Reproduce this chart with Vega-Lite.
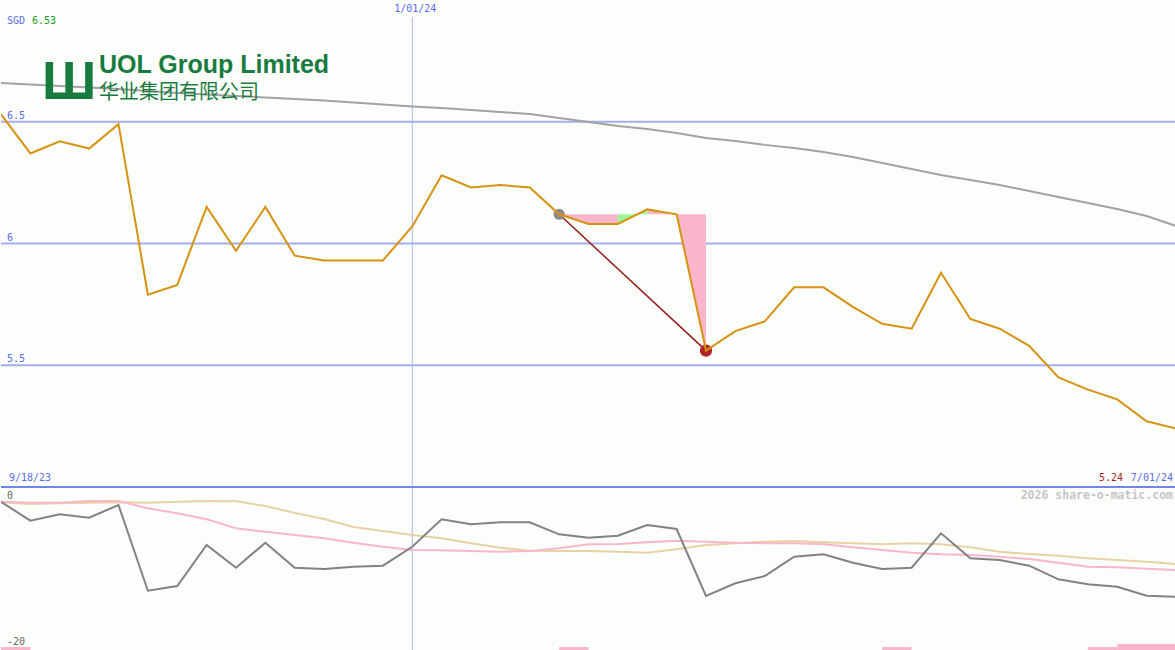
{
  "$schema": "https://vega.github.io/schema/vega-lite/v6.json",
  "background": "#fcfefc",
  "padding": 0,
  "spacing": 0,
  "bounds": "flush",
  "config": {"view": {"stroke": null}},
  "resolve": {"scale": {"y": "independent", "x": "shared"}},
  "datasets": {
    "weekly": [
      {"date": "2023-09-25", "price": 6.53, "average": 6.659, "relative": 0, "relFast": 0, "relSlow": -0.07},
      {"date": "2023-10-02", "price": 6.37, "average": 6.653, "relative": -2.55, "relFast": -0.12, "relSlow": -0.3},
      {"date": "2023-10-09", "price": 6.42, "average": 6.647, "relative": -1.69, "relFast": -0.12, "relSlow": -0.2},
      {"date": "2023-10-16", "price": 6.39, "average": 6.641, "relative": -2.15, "relFast": 0.1, "relSlow": -0.12},
      {"date": "2023-10-23", "price": 6.49, "average": 6.634, "relative": -0.43, "relFast": 0.1, "relSlow": -0.07},
      {"date": "2023-10-30", "price": 5.79, "average": 6.626, "relative": -12.0, "relFast": -0.88, "relSlow": -0.12},
      {"date": "2023-11-06", "price": 5.83, "average": 6.618, "relative": -11.36, "relFast": -1.55, "relSlow": 0.01},
      {"date": "2023-11-13", "price": 6.15, "average": 6.612, "relative": -5.83, "relFast": -2.36, "relSlow": 0.11},
      {"date": "2023-11-20", "price": 5.97, "average": 6.606, "relative": -8.89, "relFast": -3.58, "relSlow": 0.07},
      {"date": "2023-11-27", "price": 6.15, "average": 6.6, "relative": -5.52, "relFast": -4.04, "relSlow": -0.57},
      {"date": "2023-12-04", "price": 5.95, "average": 6.593, "relative": -8.89, "relFast": -4.48, "relSlow": -1.51},
      {"date": "2023-12-11", "price": 5.93, "average": 6.587, "relative": -9.07, "relFast": -4.93, "relSlow": -2.32},
      {"date": "2023-12-18", "price": 5.93, "average": 6.579, "relative": -8.76, "relFast": -5.52, "relSlow": -3.4},
      {"date": "2023-12-25", "price": 5.93, "average": 6.571, "relative": -8.62, "relFast": -6.06, "relSlow": -3.94},
      {"date": "2024-01-01", "price": 6.07, "average": 6.563, "relative": -6.06, "relFast": -6.51, "relSlow": -4.48},
      {"date": "2024-01-08", "price": 6.28, "average": 6.556, "relative": -2.36, "relFast": -6.55, "relSlow": -4.93},
      {"date": "2024-01-15", "price": 6.23, "average": 6.548, "relative": -3.04, "relFast": -6.64, "relSlow": -5.6},
      {"date": "2024-01-22", "price": 6.24, "average": 6.54, "relative": -2.77, "relFast": -6.74, "relSlow": -6.2},
      {"date": "2024-01-29", "price": 6.23, "average": 6.532, "relative": -2.77, "relFast": -6.64, "relSlow": -6.6},
      {"date": "2024-02-05", "price": 6.12, "average": 6.515, "relative": -4.39, "relFast": -6.28, "relSlow": -6.64},
      {"date": "2024-02-12", "price": 6.08, "average": 6.499, "relative": -4.85, "relFast": -5.74, "relSlow": -6.64},
      {"date": "2024-02-19", "price": 6.08, "average": 6.483, "relative": -4.58, "relFast": -5.7, "relSlow": -6.74},
      {"date": "2024-02-26", "price": 6.14, "average": 6.47, "relative": -3.13, "relFast": -5.47, "relSlow": -6.87},
      {"date": "2024-03-04", "price": 6.12, "average": 6.454, "relative": -3.67, "relFast": -5.25, "relSlow": -6.41},
      {"date": "2024-03-11", "price": 5.56, "average": 6.433, "relative": -12.71, "relFast": -5.39, "relSlow": -5.83},
      {"date": "2024-03-18", "price": 5.64, "average": 6.421, "relative": -11.0, "relFast": -5.52, "relSlow": -5.6},
      {"date": "2024-03-25", "price": 5.68, "average": 6.405, "relative": -10.01, "relFast": -5.6, "relSlow": -5.39},
      {"date": "2024-04-01", "price": 5.82, "average": 6.392, "relative": -7.41, "relFast": -5.6, "relSlow": -5.29},
      {"date": "2024-04-08", "price": 5.82, "average": 6.376, "relative": -7.09, "relFast": -5.74, "relSlow": -5.47},
      {"date": "2024-04-15", "price": 5.74, "average": 6.355, "relative": -8.22, "relFast": -6.14, "relSlow": -5.6},
      {"date": "2024-04-22", "price": 5.67, "average": 6.331, "relative": -9.07, "relFast": -6.51, "relSlow": -5.74},
      {"date": "2024-04-29", "price": 5.65, "average": 6.306, "relative": -8.89, "relFast": -6.87, "relSlow": -5.6},
      {"date": "2024-05-06", "price": 5.88, "average": 6.281, "relative": -4.25, "relFast": -7.09, "relSlow": -5.74},
      {"date": "2024-05-13", "price": 5.69, "average": 6.261, "relative": -7.63, "relFast": -7.18, "relSlow": -6.14},
      {"date": "2024-05-20", "price": 5.65, "average": 6.24, "relative": -7.86, "relFast": -7.41, "relSlow": -6.74},
      {"date": "2024-05-27", "price": 5.58, "average": 6.216, "relative": -8.62, "relFast": -7.72, "relSlow": -7.05},
      {"date": "2024-06-03", "price": 5.45, "average": 6.191, "relative": -10.46, "relFast": -8.22, "relSlow": -7.27},
      {"date": "2024-06-10", "price": 5.4, "average": 6.166, "relative": -11.13, "relFast": -8.76, "relSlow": -7.63},
      {"date": "2024-06-17", "price": 5.36, "average": 6.142, "relative": -11.46, "relFast": -8.84, "relSlow": -7.86},
      {"date": "2024-06-24", "price": 5.27, "average": 6.113, "relative": -12.67, "relFast": -9.03, "relSlow": -8.08},
      {"date": "2024-07-01", "price": 5.24, "average": 6.072, "relative": -12.81, "relFast": -9.21, "relSlow": -8.4}
    ],
    "levels": [
      {"date": "2023-09-25", "level": 6.5, "label": "6.5"},
      {"date": "2023-09-25", "level": 6, "label": "6"},
      {"date": "2023-09-25", "level": 5.5, "label": "5.5"}
    ],
    "drawdownFill": [
      {"date": "2024-02-05", "price": 6.12, "level": 6.12, "shade": "loss", "segment": "a"},
      {"date": "2024-02-12", "price": 6.08, "level": 6.12, "shade": "loss", "segment": "a"},
      {"date": "2024-02-19", "price": 6.08, "level": 6.12, "shade": "loss", "segment": "a"},
      {"date": "2024-02-19", "price": 6.08, "level": 6.12, "shade": "gain", "segment": "b"},
      {"date": "2024-02-26", "price": 6.14, "level": 6.12, "shade": "gain", "segment": "b"},
      {"date": "2024-02-26", "price": 6.14, "level": 6.12, "shade": "loss", "segment": "c"},
      {"date": "2024-03-04", "price": 6.12, "level": 6.12, "shade": "loss", "segment": "c"},
      {"date": "2024-03-11", "price": 5.56, "level": 6.12, "shade": "loss", "segment": "c"}
    ],
    "drawdown": [
      {"date": "2024-02-05", "price": 6.12},
      {"date": "2024-03-11", "price": 5.56}
    ],
    "markers": [
      {"date": "2024-01-01", "top": 6.93, "bottom": 5}
    ],
    "bars": [
      {"start": "2023-09-25", "end": "2023-10-02", "base": -20, "top": -19.6},
      {"start": "2024-02-05", "end": "2024-02-12", "base": -20, "top": -19.6},
      {"start": "2024-04-22", "end": "2024-04-29", "base": -20, "top": -19.6},
      {"start": "2024-06-10", "end": "2024-06-17", "base": -20, "top": -19.6},
      {"start": "2024-06-17", "end": "2024-07-01", "base": -20, "top": -19.19}
    ]
  },
  "vconcat": [
    {
      "width": 1175,
      "height": 487,
      "layer": [
        {
          "data": {"name": "levels"},
          "mark": {"type": "rule", "color": "#a3aef0", "strokeWidth": 2},
          "encoding": {
            "y": {"field": "level", "type": "quantitative", "axis": null, "scale": {"domain": [5, 7], "nice": false, "zero": false}}
          }
        },
        {
          "data": {"name": "levels"},
          "mark": {"type": "text", "align": "left", "baseline": "middle", "dx": 6, "dy": -6, "font": "DejaVu Sans Mono", "fontSize": 10, "color": "#5b6cf0"},
          "encoding": {
            "x": {"field": "date", "type": "temporal", "axis": null, "scale": {"domain": [{"year": 2023, "month": 9, "date": 25, "utc": true}, {"year": 2024, "month": 7, "date": 1, "utc": true}], "nice": false}},
            "y": {"field": "level", "type": "quantitative", "axis": null, "scale": {"domain": [5, 7], "nice": false, "zero": false}},
            "text": {"field": "label"}
          }
        },
        {
          "data": {"name": "markers"},
          "mark": {"type": "rule", "color": "#aab4f8", "strokeWidth": 1},
          "encoding": {
            "x": {"field": "date", "type": "temporal", "axis": null},
            "y": {"field": "top", "type": "quantitative", "axis": null},
            "y2": {"field": "bottom"}
          }
        },
        {
          "data": {"name": "markers"},
          "mark": {"type": "text", "align": "center", "baseline": "middle", "dx": 3, "font": "DejaVu Sans Mono", "fontSize": 10, "color": "#5b6cf0", "text": "1/01/24"},
          "encoding": {
            "x": {"field": "date", "type": "temporal", "axis": null},
            "y": {"datum": 6.963, "type": "quantitative", "axis": null}
          }
        },
        {
          "data": {"name": "drawdownFill"},
          "mark": {"type": "area", "opacity": 1},
          "encoding": {
            "x": {"field": "date", "type": "temporal", "axis": null},
            "y": {"field": "price", "type": "quantitative", "stack": null, "axis": null},
            "y2": {"field": "level"},
            "color": {"field": "shade", "type": "nominal", "scale": {"domain": ["loss", "gain"], "range": ["#f9b6ca", "#9ff59a"]}, "legend": null},
            "detail": {"field": "segment"}
          }
        },
        {
          "data": {"name": "weekly"},
          "mark": {"type": "line", "color": "#a2a2a2", "strokeWidth": 2, "clip": true},
          "encoding": {
            "x": {"field": "date", "type": "temporal", "axis": null},
            "y": {"field": "average", "type": "quantitative", "axis": null}
          }
        },
        {
          "data": {"name": "drawdown"},
          "mark": {"type": "line", "color": "#961c1c", "strokeWidth": 1.5},
          "encoding": {
            "x": {"field": "date", "type": "temporal", "axis": null},
            "y": {"field": "price", "type": "quantitative", "axis": null}
          }
        },
        {
          "data": {"values": [{"date": "2024-02-05", "price": 6.12}]},
          "mark": {"type": "point", "filled": true, "size": 125, "opacity": 1, "color": "#8c8c8c"},
          "encoding": {
            "x": {"field": "date", "type": "temporal", "axis": null},
            "y": {"field": "price", "type": "quantitative", "axis": null}
          }
        },
        {
          "data": {"values": [{"date": "2024-03-11", "price": 5.56}]},
          "mark": {"type": "point", "filled": true, "size": 150, "opacity": 1, "color": "#b42424"},
          "encoding": {
            "x": {"field": "date", "type": "temporal", "axis": null},
            "y": {"field": "price", "type": "quantitative", "axis": null}
          }
        },
        {
          "data": {"name": "weekly"},
          "mark": {"type": "line", "color": "#d69210", "strokeWidth": 2, "clip": true},
          "encoding": {
            "x": {"field": "date", "type": "temporal", "axis": null},
            "y": {"field": "price", "type": "quantitative", "axis": null}
          }
        },
        {
          "data": {"values": [{"date": "2023-09-25", "value": 6.912, "label": "SGD"}]},
          "mark": {"type": "text", "align": "left", "baseline": "middle", "dx": 6, "font": "DejaVu Sans Mono", "fontSize": 10, "color": "#5b6cf0"},
          "encoding": {
            "x": {"field": "date", "type": "temporal", "axis": null},
            "y": {"field": "value", "type": "quantitative", "axis": null},
            "text": {"field": "label"}
          }
        },
        {
          "data": {"values": [{"date": "2023-09-25", "value": 6.912, "label": "6.53"}]},
          "mark": {"type": "text", "align": "left", "baseline": "middle", "dx": 31, "font": "DejaVu Sans Mono", "fontSize": 10, "color": "#22a022"},
          "encoding": {
            "x": {"field": "date", "type": "temporal", "axis": null},
            "y": {"field": "value", "type": "quantitative", "axis": null},
            "text": {"field": "label"}
          }
        },
        {
          "data": {"values": [{"date": "2023-09-25", "value": 5.037, "label": "9/18/23"}]},
          "mark": {"type": "text", "align": "left", "baseline": "middle", "dx": 8, "font": "DejaVu Sans Mono", "fontSize": 10, "color": "#5b6cf0"},
          "encoding": {
            "x": {"field": "date", "type": "temporal", "axis": null},
            "y": {"field": "value", "type": "quantitative", "axis": null},
            "text": {"field": "label"}
          }
        },
        {
          "data": {"values": [{"date": "2024-07-01", "value": 5.037, "label": "7/01/24"}]},
          "mark": {"type": "text", "align": "right", "baseline": "middle", "dx": -3, "font": "DejaVu Sans Mono", "fontSize": 10, "color": "#5b6cf0"},
          "encoding": {
            "x": {"field": "date", "type": "temporal", "axis": null},
            "y": {"field": "value", "type": "quantitative", "axis": null},
            "text": {"field": "label"}
          }
        },
        {
          "data": {"values": [{"date": "2024-07-01", "value": 5.037, "label": "5.24"}]},
          "mark": {"type": "text", "align": "right", "baseline": "middle", "dx": -53, "font": "DejaVu Sans Mono", "fontSize": 10, "color": "#a82424"},
          "encoding": {
            "x": {"field": "date", "type": "temporal", "axis": null},
            "y": {"field": "value", "type": "quantitative", "axis": null},
            "text": {"field": "label"}
          }
        },
        {
          "data": {"values": [{"date": "2023-09-25", "value": 6.593, "label": "Ш"}]},
          "mark": {"type": "text", "align": "left", "baseline": "alphabetic", "dx": 41, "font": "Liberation Sans", "fontWeight": "bold", "fontSize": 54, "color": "#1a7b40"},
          "encoding": {
            "x": {"field": "date", "type": "temporal", "axis": null},
            "y": {"field": "value", "type": "quantitative", "axis": null},
            "text": {"field": "label"}
          }
        },
        {
          "data": {"values": [{"date": "2023-09-25", "value": 6.7, "label": "UOL Group Limited"}]},
          "mark": {"type": "text", "align": "left", "baseline": "alphabetic", "dx": 98, "font": "Liberation Sans", "fontWeight": "bold", "fontSize": 25, "color": "#1a7b40"},
          "encoding": {
            "x": {"field": "date", "type": "temporal", "axis": null},
            "y": {"field": "value", "type": "quantitative", "axis": null},
            "text": {"field": "label"}
          }
        },
        {
          "data": {"values": [{"date": "2023-09-25", "value": 6.618, "label": "华业集团有限公司"}]},
          "mark": {"type": "text", "align": "left", "baseline": "middle", "dx": 98, "font": "Noto Sans CJK SC", "fontSize": 20, "color": "#1a7b40"},
          "encoding": {
            "x": {"field": "date", "type": "temporal", "axis": null},
            "y": {"field": "value", "type": "quantitative", "axis": null},
            "text": {"field": "label"}
          }
        }
      ]
    },
    {
      "width": 1175,
      "height": 163,
      "layer": [
        {
          "data": {"name": "bars"},
          "mark": {"type": "rect", "color": "#f9b6ca"},
          "encoding": {
            "x": {"field": "start", "type": "temporal", "axis": null, "scale": {"domain": [{"year": 2023, "month": 9, "date": 25, "utc": true}, {"year": 2024, "month": 7, "date": 1, "utc": true}], "nice": false}},
            "x2": {"field": "end"},
            "y": {"field": "base", "type": "quantitative", "axis": null, "scale": {"domain": [-20, 2], "nice": false, "zero": false}},
            "y2": {"field": "top"}
          }
        },
        {
          "data": {"name": "markers"},
          "mark": {"type": "rule", "color": "#aab4f8", "strokeWidth": 1},
          "encoding": {
            "x": {"field": "date", "type": "temporal", "axis": null}
          }
        },
        {
          "data": {"name": "weekly"},
          "mark": {"type": "line", "color": "#e6d2a2", "strokeWidth": 2, "clip": true},
          "encoding": {
            "x": {"field": "date", "type": "temporal", "axis": null},
            "y": {"field": "relSlow", "type": "quantitative", "axis": null}
          }
        },
        {
          "data": {"name": "weekly"},
          "mark": {"type": "line", "color": "#f9b6ca", "strokeWidth": 2, "clip": true},
          "encoding": {
            "x": {"field": "date", "type": "temporal", "axis": null},
            "y": {"field": "relFast", "type": "quantitative", "axis": null}
          }
        },
        {
          "data": {"name": "weekly"},
          "mark": {"type": "line", "color": "#828282", "strokeWidth": 2, "clip": true},
          "encoding": {
            "x": {"field": "date", "type": "temporal", "axis": null},
            "y": {"field": "relative", "type": "quantitative", "axis": null}
          }
        },
        {
          "data": {"values": [{"date": "2023-09-25", "value": 0.82, "label": "0"}, {"date": "2023-09-25", "value": -18.92, "label": "-20"}]},
          "mark": {"type": "text", "align": "left", "baseline": "middle", "dx": 6, "font": "DejaVu Sans Mono", "fontSize": 10, "color": "#666666"},
          "encoding": {
            "x": {"field": "date", "type": "temporal", "axis": null},
            "y": {"field": "value", "type": "quantitative", "axis": null},
            "text": {"field": "label"}
          }
        },
        {
          "data": {"values": [{"date": "2024-07-01", "value": 0.78, "label": "2026 share-o-matic.com"}]},
          "mark": {"type": "text", "align": "right", "baseline": "middle", "dx": -3, "font": "DejaVu Sans Mono", "fontWeight": "bold", "fontSize": 11.5, "color": "#c6c6c6"},
          "encoding": {
            "x": {"field": "date", "type": "temporal", "axis": null},
            "y": {"field": "value", "type": "quantitative", "axis": null},
            "text": {"field": "label"}
          }
        },
        {
          "data": {"values": [{"edge": 2}]},
          "mark": {"type": "rule", "color": "#7384ea", "strokeWidth": 2},
          "encoding": {
            "y": {"field": "edge", "type": "quantitative", "axis": null}
          }
        }
      ]
    }
  ]
}
